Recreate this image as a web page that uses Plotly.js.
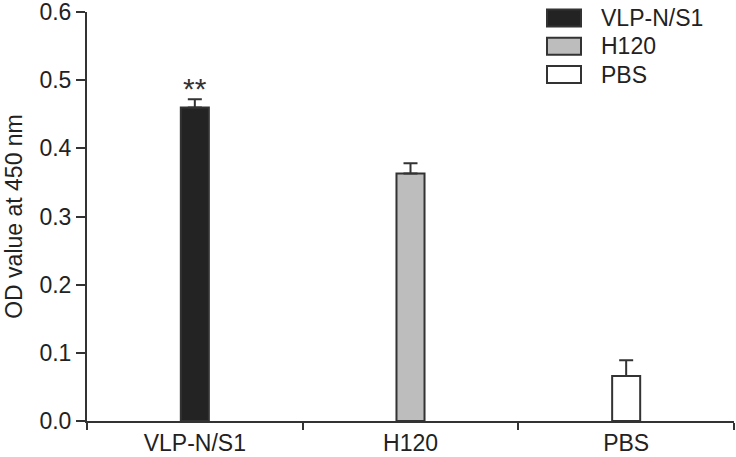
<!DOCTYPE html>
<html>
<head>
<meta charset="utf-8">
<script src="https://cdn.plot.ly/plotly-3.0.1.min.js"></script>
<style>html,body{margin:0;padding:0;background:#fff;}#chart{width:736px;height:457px;}</style>
</head>
<body>
<div id="chart"></div>
<script>
var categories = ["VLP-N/S1", "H120", "PBS"];
var seriesNames = ["VLP-N/S1", "H120", "PBS"];
var values = [0.460, 0.363, 0.066];
var errors = [0.012, 0.015, 0.023];
var fills = ["#232323", "#bdbdbd", "#ffffff"];
var significance = ["**", "", ""];

var W = 736, H = 457;
var M = { l: 87, r: 2, t: 12, b: 36 };
var FONT = "Liberation Sans, Arial, Helvetica, sans-serif";
// pixel -> paper helpers for the legend block
function px(x) { return (x - M.l) / (W - M.l - M.r); }
function py(y) { return (H - M.b - y) / (H - M.t - M.b); }

var traces = seriesNames.map(function (name, i) {
  return {
    type: "bar",
    name: name,
    x: [categories[i]],
    y: [values[i]],
    width: 0.13,
    showlegend: false,
    marker: { color: fills[i], line: { color: "#333333", width: 2 } },
    error_y: { type: "data", symmetric: false, array: [errors[i]], arrayminus: [0],
               visible: true, color: "#333333", thickness: 2, width: 7 }
  };
});

var annotations = [];
categories.forEach(function (c, i) {
  if (significance[i]) {
    annotations.push({
      x: c, y: values[i] + errors[i], xref: "x", yref: "y",
      text: significance[i], showarrow: false, yanchor: "bottom", yshift: -8,
      font: { family: FONT, size: 30, color: "#333" }
    });
  }
});

// custom legend with large swatches
var shapes = [];
var legendTop = 9.5, legendStep = 28.3, swW = 34, swH = 17, swX = 547, txtX = 599;
seriesNames.forEach(function (name, i) {
  var y0 = legendTop + i * legendStep;
  shapes.push({
    type: "rect", xref: "paper", yref: "paper",
    x0: px(swX), x1: px(swX + swW), y0: py(y0 + swH), y1: py(y0),
    fillcolor: fills[i], line: { color: "#333333", width: 2 }
  });
  annotations.push({
    xref: "paper", yref: "paper", x: px(txtX), y: py(y0 + swH / 2),
    xanchor: "left", yanchor: "middle", showarrow: false, text: name,
    font: { family: FONT, size: 23, color: "#222" }
  });
});

var layout = {
  width: W, height: H,
  margin: M,
  paper_bgcolor: "#fff", plot_bgcolor: "#fff",
  font: { family: FONT, size: 23, color: "#222" },
  barmode: "overlay",
  showlegend: false,
  xaxis: {
    type: "category", range: [-0.5, 2.5],
    showline: true, linecolor: "#333", linewidth: 2,
    ticks: "outside", tickson: "boundaries", ticklen: 7, tickwidth: 2, tickcolor: "#333",
    showgrid: false, zeroline: false,
    tickfont: { family: FONT, size: 23, color: "#222" }
  },
  yaxis: {
    range: [0, 0.6], dtick: 0.1, tick0: 0, tickformat: ".1f",
    showline: true, linecolor: "#333", linewidth: 2,
    ticks: "outside", ticklen: 9, tickwidth: 2, tickcolor: "#333",
    ticklabeloverflow: "allow",
    showgrid: false, zeroline: false, automargin: false,
    tickfont: { family: FONT, size: 23, color: "#222" },
    title: { text: "OD value at 450 nm", font: { family: FONT, size: 23, color: "#222" }, standoff: 10 }
  },
  shapes: shapes,
  annotations: annotations
};

Plotly.newPlot("chart", traces, layout, { displayModeBar: false, staticPlot: true });
</script>
</body>
</html>
